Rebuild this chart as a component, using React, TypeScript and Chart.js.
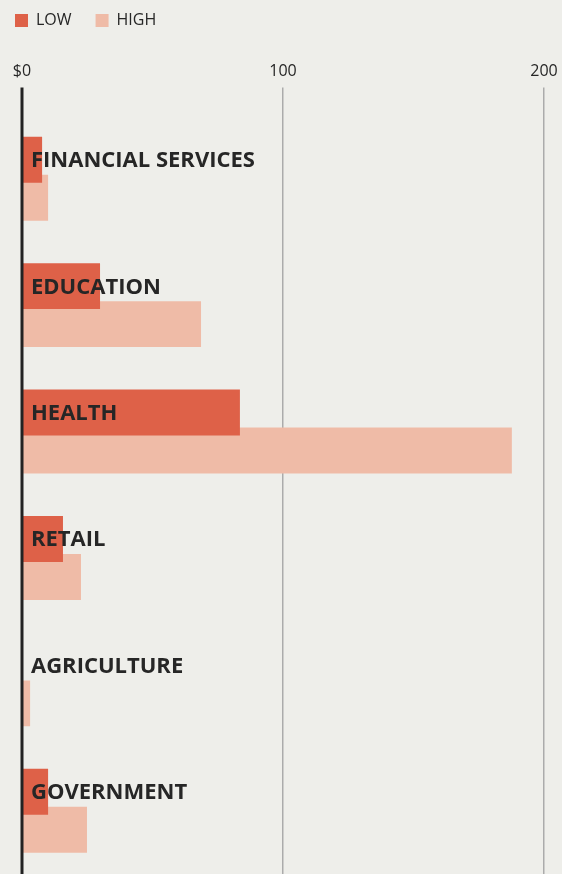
import React, { useEffect, useRef } from "react";
import { Chart, registerables } from "chart.js";

Chart.register(...registerables);

const categories = ["FINANCIAL SERVICES", "EDUCATION", "HEALTH", "RETAIL", "AGRICULTURE", "GOVERNMENT"];
const seriesNames = ["LOW", "HIGH"];
const lowValues = [7.7, 29.9, 83.5, 15.7, 0, 10.0];
const highValues = [10.0, 68.6, 187.7, 22.6, 3.1, 24.9];
const tickValues = [0, 100, 200];
const tickLabels = ["$0", "100", "200"];

const BG = "#eeeeea";
const LOW_COLOR = "#de6148";
const HIGH_COLOR = "#efbba7";
const TEXT = "#262626";
const GRID = "#ababab";
const ZERO = "#222222";

const overlayPlugin = {
  id: "overlay",
  afterDatasetsDraw(chart: any) {
    const ctx = chart.ctx;
    const xs = chart.scales.x;
    const area = chart.chartArea;
    const meta = chart.getDatasetMeta(0);
    ctx.save();
    // zero line on top of bars
    const x0 = xs.getPixelForValue(0);
    const tl = xs.options.grid.tickLength;
    ctx.strokeStyle = ZERO;
    ctx.lineWidth = 3;
    ctx.beginPath();
    ctx.moveTo(x0, area.top - tl);
    ctx.lineTo(x0, area.bottom);
    ctx.stroke();
    // category labels
    ctx.fillStyle = TEXT;
    ctx.font = "bold 22px 'Open Sans'";
    ctx.textAlign = "left";
    ctx.textBaseline = "alphabetic";
    categories.forEach((c, i) => {
      const bar = meta.data[i];
      ctx.fillText(c, x0 + 9, bar.y + 7.5);
    });
    ctx.restore();
  },
};

export default function App() {
  const ref = useRef<HTMLCanvasElement | null>(null);
  useEffect(() => {
    document.body.style.margin = "0";
    document.body.style.background = BG;
    const canvas = ref.current!;
    const chart = new Chart(canvas, {
      type: "bar",
      data: {
        labels: categories,
        datasets: [
          { label: seriesNames[0], data: lowValues, backgroundColor: LOW_COLOR, borderWidth: 0 },
          { label: seriesNames[1], data: highValues, backgroundColor: HIGH_COLOR, borderWidth: 0 },
        ],
      },
      options: {
        indexAxis: "y",
        animation: false,
        responsive: false,
        devicePixelRatio: 1,
        categoryPercentage: 0.601,
        barPercentage: 1.21,
        layout: { padding: { left: -9, top: -11.5, right: 5, bottom: 0 } },
        plugins: {
          legend: {
            display: true,
            position: "top",
            align: "start",
            labels: {
              boxWidth: 13,
              boxHeight: 13,
              padding: 24,
              color: TEXT,
              font: { family: "'Open Sans'", size: 16 },
            },
          },
          tooltip: { enabled: false },
        },
        scales: {
          x: {
            type: "linear",
            position: "top",
            min: 0,
            max: 205,
            afterBuildTicks: (s: any) => {
              s.ticks = tickValues.map((v) => ({ value: v }));
            },
            afterFit: (s: any) => {
              s.height = 77;
              s.paddingLeft = 0;
              s.paddingRight = 0;
            },
            ticks: {
              callback: (v: any) => tickLabels[tickValues.indexOf(Number(v))],
              color: TEXT,
              padding: 6,
              maxRotation: 0,
              font: { family: "'Open Sans'", size: 16 },
            },
            grid: {
              color: (c: any) => (c.tick && c.tick.value === 0 ? "rgba(0,0,0,0)" : GRID),
              lineWidth: 1.5,
              tickLength: 28,
              drawTicks: true,
            },
            border: { display: false },
          },
          y: {
            type: "category",
            offset: true,
            display: true,
            afterFit: (s: any) => {
              s.width = 31;
            },
            ticks: { display: false },
            grid: { display: false },
            border: { display: false },
          },
        },
      },
      plugins: [overlayPlugin],
    });
    return () => chart.destroy();
  }, []);
  return (
    <div style={{ position: "fixed", left: 0, top: 0, width: 562, height: 874, background: BG }}>
      <canvas ref={ref} width={562} height={874} style={{ display: "block", width: 562, height: 874 }} />
    </div>
  );
}
